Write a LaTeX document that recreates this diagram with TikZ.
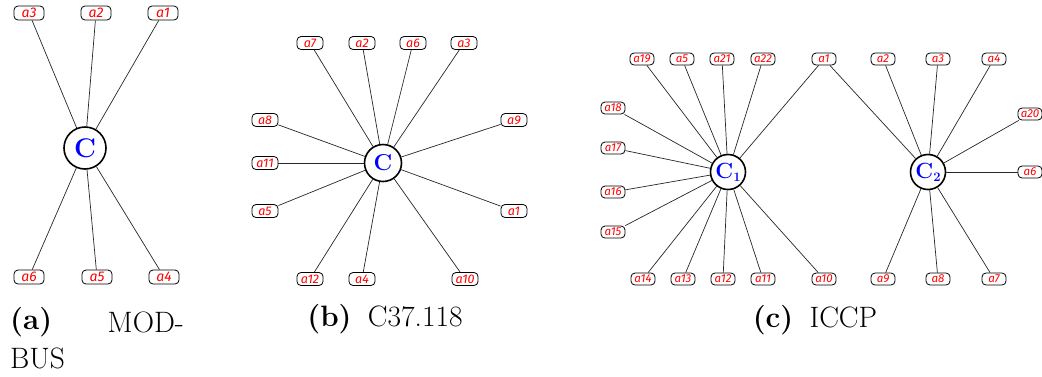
\documentclass[tikz,border=0pt]{standalone}
\usepackage{fontspec}
\newfontfamily\lblfont{Fira Sans}
\begin{document}
\begin{tikzpicture}[x=1pt,y=-1pt,
  lbl/.style={draw, rounded corners=4pt, line width=0.8pt, text=red,
    inner sep=0pt, minimum height=12pt, minimum width=24pt},
  lblA/.style={lbl, font=\lblfont\itshape\fontsize{14}{14}\selectfont, minimum height=14pt, minimum width=30pt},
  lblB/.style={lbl, font=\lblfont\itshape\fontsize{12.5}{12.5}\selectfont, minimum height=13pt, minimum width=26pt},
  lblC/.style={lbl, font=\lblfont\itshape\fontsize{11.5}{11.5}\selectfont, minimum height=12pt, minimum width=24pt},
  hub/.style={circle, draw, line width=1.6pt, fill=white, text=blue, inner sep=0pt},
  link/.style={line width=0.7pt, black!85},
  captext/.style={font=\fontsize{29.5}{34}\selectfont, inner sep=0pt}]
\useasboundingbox (0,0) rectangle (1042,376);

% ---------- (a) MODBUS ----------
\node[hub, minimum size=42pt, font=\bfseries\fontsize{27}{27}\selectfont] (A-C) at (85,148) {C};
\node[lblA] (A-a3) at (29,13) {a3};
\node[lblA] (A-a2) at (96,13) {a2};
\node[lblA] (A-a1) at (163,13) {a1};
\node[lblA] (A-a6) at (29,277) {a6};
\node[lblA] (A-a5) at (97,277) {a5};
\node[lblA] (A-a4) at (164,277) {a4};
\foreach \n in {a1,a2,a3,a4,a5,a6} \draw[link] (A-\n) -- (A-C);

\node[captext, anchor=west] (A-t1) at (10,322) {\textbf{(a)}};
\node[captext, anchor=east] (A-t2) at (184,322) {MOD-};
\node[captext, anchor=west] (A-t3) at (10,358) {BUS};

% ---------- (b) C37.118 ----------
\node[hub, minimum size=37pt, font=\bfseries\fontsize{23}{23}\selectfont] (B-C) at (383,163) {C};
\node[lblB] (B-a7) at (310,43) {a7};
\node[lblB] (B-a2) at (362,43) {a2};
\node[lblB] (B-a6) at (413,43) {a6};
\node[lblB] (B-a3) at (464,43) {a3};
\node[lblB] (B-a8) at (265,120) {a8};
\node[lblB] (B-a9) at (514,120) {a9};
\node[lblB] (B-a11) at (265,163) {a11};
\node[lblB] (B-a5) at (265,211) {a5};
\node[lblB] (B-a1) at (514,211) {a1};
\node[lblB] (B-a12) at (310,279) {a12};
\node[lblB] (B-a4) at (362,279) {a4};
\node[lblB] (B-a10) at (465,279) {a10};
\foreach \n in {a1,a2,a3,a4,a5,a6,a7,a8,a9,a10,a11,a12} \draw[link] (B-\n) -- (B-C);

\node[captext] (B-t) at (385,319) {\textbf{(b)}\hspace{0.55em}C37.118};

% ---------- (c) ICCP ----------
\tikzset{hubC/.style={hub, minimum size=35pt, font=\bfseries\fontsize{22}{22}\selectfont}}
\node[hubC] (C-C1) at (728,172) {C\raisebox{-0.3ex}{\fontsize{13}{13}\selectfont 1}};
\node[hubC] (C-C2) at (928,172) {C\raisebox{-0.3ex}{\fontsize{13}{13}\selectfont 2}};
\node[lblC] (C-a19) at (642,59) {a19};
\node[lblC] (C-a5) at (682,59) {a5};
\node[lblC] (C-a21) at (722,59) {a21};
\node[lblC] (C-a22) at (763,59) {a22};
\node[lblC] (C-a18) at (613,108) {a18};
\node[lblC] (C-a17) at (613,148) {a17};
\node[lblC] (C-a16) at (613,192) {a16};
\node[lblC] (C-a15) at (613,232) {a15};
\node[lblC] (C-a14) at (643,279) {a14};
\node[lblC] (C-a13) at (683,279) {a13};
\node[lblC] (C-a12) at (723,279) {a12};
\node[lblC] (C-a11) at (763,279) {a11};
\node[lblC] (C-a10) at (824,279) {a10};
\node[lblC] (C-a1) at (824,59) {a1};
\node[lblC] (C-a2) at (883,59) {a2};
\node[lblC] (C-a3) at (938,59) {a3};
\node[lblC] (C-a4) at (994,59) {a4};
\node[lblC] (C-a20) at (1030,114) {a20};
\node[lblC] (C-a6) at (1030,172) {a6};
\node[lblC] (C-a9) at (883,279) {a9};
\node[lblC] (C-a8) at (938,279) {a8};
\node[lblC] (C-a7) at (994,279) {a7};
\foreach \n in {a19,a5,a21,a22,a18,a17,a16,a15,a14,a13,a12,a11,a10,a1}
  \draw[link] (C-\n) -- (C-C1);
\foreach \n in {a1,a2,a3,a4,a20,a6,a7,a8,a9}
  \draw[link] (C-\n) -- (C-C2);

\node[captext] (C-t) at (815,320) {\textbf{(c)}\hspace{0.55em}ICCP};
\end{tikzpicture}
\end{document}
